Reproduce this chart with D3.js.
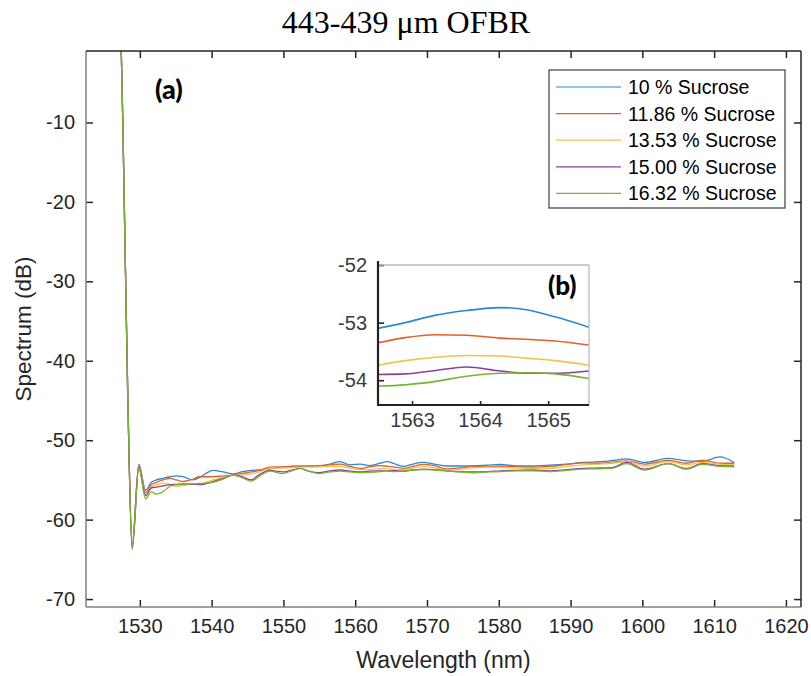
<!DOCTYPE html>
<html><head><meta charset="utf-8">
<script src="https://cdn.jsdelivr.net/npm/d3@7"></script>
<style>body{margin:0;background:#fff}</style>
</head><body><svg id="c" width="811" height="676"></svg>
<script>
// ---------- data ----------
const wavelengths = [1527.4,1527.63,1528.33,1528.93,1529.86,1530.8,
 1531.6,1532.3,1533.2,1534.2,1535.1,1536.0,1537.4,1538.3,1540.2,1541.6,1543.0,1544.2,1545.5,1546.7,1548.1,1549.9,
 1551.0,1552.3,1553.5,1555.0,1556.5,1557.9,1559.3,1560.7,1562.0,1563.5,1564.4,1565.6,1566.7,1568.0,1569.5,1571.0,
 1572.7,1574.5,1576.5,1578.5,1580.2,1582.5,1584.7,1587.1,1589.5,1591.7,1594.0,1595.8,1597.8,1600.3,1603.6,1606.1,
 1608.4,1610.8,1612.8];
const sucrose10 = [-0.5,-10,-45,-63.2,-53.0,-56.3,
 -55.3,-55.0,-54.8,-54.6,-54.5,-54.6,-55.0,-54.7,-53.8,-54.0,-54.25,-54.0,-53.8,-53.74,-53.6,-53.4,
 -53.3,-53.3,-53.3,-53.25,-53.0,-52.7,-53.1,-53.0,-53.2,-52.9,-52.7,-53.0,-53.3,-53.0,-52.8,-53.0,
 -53.25,-53.25,-53.25,-53.15,-53.05,-53.25,-53.25,-53.15,-53.0,-52.8,-52.7,-52.55,-52.35,-52.8,-52.3,-52.6,
 -52.65,-52.1,-52.8];
const sucrose1186 = [-0.5,-10,-45,-63.4,-53.1,-56.6,
 -55.6,-55.3,-55.0,-54.8,-55.0,-55.2,-54.9,-54.6,-54.6,-54.5,-54.4,-54.2,-54.0,-53.8,-53.4,-53.35,
 -53.3,-53.25,-53.25,-53.2,-53.1,-53.0,-53.3,-53.55,-53.35,-53.2,-53.28,-53.4,-53.55,-53.3,-53.05,-53.2,
 -53.6,-53.5,-53.3,-53.35,-53.25,-53.35,-53.4,-53.3,-53.05,-52.85,-52.9,-52.75,-52.6,-53.0,-52.55,-52.9,
 -52.5,-52.9,-52.9];
const sucrose1353 = [-0.5,-10,-45,-63.5,-53.2,-56.8,
 -55.9,-55.6,-55.4,-55.6,-55.8,-55.7,-55.5,-55.5,-55.0,-54.7,-54.4,-54.4,-54.25,-54.0,-53.55,-53.5,
 -53.45,-53.4,-53.4,-53.35,-53.3,-53.3,-53.5,-53.7,-53.7,-53.6,-53.57,-53.74,-53.7,-53.5,-53.3,-53.45,
 -53.75,-53.7,-53.45,-53.4,-53.45,-53.5,-53.55,-53.55,-53.3,-53.1,-53.0,-52.9,-52.7,-53.25,-52.7,-53.1,
 -52.8,-53.0,-53.1];
const sucrose1500 = [-0.5,-10,-45,-63.6,-53.3,-57.0,
 -56.0,-55.9,-55.75,-55.6,-55.55,-55.5,-55.55,-55.6,-55.2,-54.8,-54.4,-54.6,-55.0,-54.3,-53.8,-54.0,
 -53.8,-53.55,-53.9,-54.1,-53.85,-53.75,-53.9,-54.0,-53.9,-53.85,-53.85,-53.84,-53.9,-53.75,-53.65,-53.7,
 -53.85,-53.95,-54.0,-53.95,-53.85,-53.8,-53.75,-53.85,-53.7,-53.55,-53.5,-53.45,-52.8,-53.65,-52.95,-53.55,
 -52.95,-53.2,-53.25];
const sucrose1632 = [-0.5,-10,-45,-63.8,-53.5,-57.4,
 -56.5,-56.8,-56.5,-55.8,-55.6,-55.55,-55.5,-55.45,-55.3,-54.9,-54.4,-54.7,-55.15,-54.5,-53.9,-54.2,
 -53.9,-53.55,-53.9,-54.2,-54.0,-53.9,-54.0,-54.1,-54.05,-53.95,-53.87,-53.95,-53.85,-53.75,-53.7,-53.75,
 -53.85,-54.0,-54.1,-54.0,-53.95,-53.85,-53.85,-53.95,-53.8,-53.65,-53.6,-53.55,-52.95,-53.75,-52.95,-53.65,
 -53.05,-53.3,-53.35];
const seriesNames = ["10 % Sucrose","11.86 % Sucrose","13.53 % Sucrose","15.00 % Sucrose","16.32 % Sucrose"];
const seriesColors = ["#2b87d1","#e0612b","#f2c14e","#8e3f9c","#79b234"];
const xTicks = [1530,1540,1550,1560,1570,1580,1590,1600,1610,1620];
const yTicks = [-70,-60,-50,-40,-30,-20,-10];

// inset (b)
const insetWavelengths = [1562.5,1562.9,1563.35,1563.8,1564.3,1564.7,1565.1,1565.6];
const inset10   = [-53.10,-53.00,-52.87,-52.79,-52.74,-52.78,-52.90,-53.08];
const inset1186 = [-53.35,-53.26,-53.21,-53.22,-53.27,-53.29,-53.32,-53.39];
const inset1353 = [-53.74,-53.66,-53.60,-53.57,-53.58,-53.62,-53.66,-53.74];
const inset1500 = [-53.90,-53.89,-53.83,-53.77,-53.84,-53.88,-53.88,-53.84];
const inset1632 = [-54.10,-54.08,-54.02,-53.93,-53.88,-53.87,-53.89,-53.97];
const insetXTicks = [1563,1564,1565];
const insetYTicks = [-54,-53,-52];

// ---------- drawing ----------
const svg = d3.select("#c");
const L=86,R=801,T=51,B=607;
const x = d3.scaleLinear().domain([1522.5,1622.1]).range([L,R]);
const y = d3.scaleLinear().domain([-71,-1]).range([B,T]);
const mainSeries = [sucrose10,sucrose1186,sucrose1353,sucrose1500,sucrose1632];
const insetSeries = [inset10,inset1186,inset1353,inset1500,inset1632];
const sansFont = "'Liberation Sans', Arial, sans-serif";
const tickColor = "#262626";
const fmt = d => String(d);

svg.append("text").attr("x",406).attr("y",33).attr("text-anchor","middle")
  .attr("font-family","'Liberation Serif','Times New Roman',serif").attr("font-size",32)
  .attr("fill","#000").text("443-439 μm OFBR");

svg.append("defs").append("clipPath").attr("id","clipMain")
  .append("rect").attr("x",L).attr("y",T).attr("width",R-L).attr("height",B-T);

// lines
const line = d3.line().x((d,i)=>x(wavelengths[i])).y(d=>y(d)).curve(d3.curveMonotoneX);
const gLines = svg.append("g").attr("clip-path","url(#clipMain)");
mainSeries.forEach((s,k)=>{
  gLines.append("path").datum(s).attr("d",line).attr("fill","none")
    .attr("stroke",seriesColors[k]).attr("stroke-width",1.3);
});

// axes
const gx = svg.append("g").attr("transform",`translate(0,${B})`)
  .call(d3.axisBottom(x).tickValues(xTicks).tickSizeInner(-7).tickSizeOuter(0).tickPadding(18).tickFormat(fmt));
const gxt = svg.append("g").attr("transform",`translate(0,${T})`)
  .call(d3.axisTop(x).tickValues(xTicks).tickSizeInner(-7).tickSizeOuter(0).tickFormat(""));
const gy = svg.append("g").attr("transform",`translate(${L},0)`)
  .call(d3.axisLeft(y).tickValues(yTicks).tickSizeInner(-7).tickSizeOuter(0).tickPadding(11).tickFormat(fmt));
const gyr = svg.append("g").attr("transform",`translate(${R},0)`)
  .call(d3.axisRight(y).tickValues(yTicks).tickSizeInner(-7).tickSizeOuter(0).tickFormat(""));
[gx,gxt,gy,gyr].forEach(g=>{
  g.select(".domain").remove();
  g.selectAll(".tick line").attr("stroke",tickColor).attr("stroke-width",1.5);
  g.selectAll(".tick text").attr("font-family",sansFont).attr("font-size",20).attr("fill",tickColor);
});
gx.selectAll(".tick text").attr("dy","0.4em");
svg.append("line").attr("x1",L).attr("x2",R).attr("y1",B).attr("y2",B).attr("stroke","#808080").attr("stroke-width",1.5);
svg.append("line").attr("x1",L).attr("x2",L).attr("y1",T).attr("y2",B).attr("stroke","#808080").attr("stroke-width",1.5);
svg.append("line").attr("x1",L).attr("x2",R).attr("y1",T).attr("y2",T).attr("stroke","#262626").attr("stroke-width",1.5);
svg.append("line").attr("x1",R).attr("x2",R).attr("y1",T).attr("y2",B).attr("stroke","#262626").attr("stroke-width",1.5);

svg.append("text").attr("x",(L+R)/2).attr("y",668).attr("text-anchor","middle")
  .attr("font-family",sansFont).attr("font-size",23).attr("fill",tickColor).text("Wavelength (nm)");
svg.append("text").attr("transform",`translate(31,${(T+B)/2}) rotate(-90)`).attr("text-anchor","middle")
  .attr("font-family",sansFont).attr("font-size",22.5).attr("fill",tickColor).text("Spectrum (dB)");

svg.append("text").attr("x",155).attr("y",99).attr("font-family","Lato, 'Open Sans', sans-serif")
  .attr("font-weight",900).attr("font-size",27).attr("fill","#000").text("(a)");

// legend
const lg = svg.append("g");
lg.append("rect").attr("x",549).attr("y",70).attr("width",236).attr("height",138)
  .attr("fill","#fff").attr("stroke","#4d4d4d").attr("stroke-width",1.3);
seriesNames.forEach((n,k)=>{
  const yy = 87 + k*26.6;
  lg.append("line").attr("x1",556).attr("x2",621).attr("y1",yy).attr("y2",yy)
    .attr("stroke",seriesColors[k]).attr("stroke-width",1.2);
  lg.append("text").attr("x",628).attr("y",yy).attr("dy","0.36em").attr("font-family",sansFont)
    .attr("font-size",19.5).attr("fill","#000").text(n);
});

// inset
const iL=378,iR=589,iT=265,iB=405;
const xi = d3.scaleLinear().domain([1562.5,1565.6]).range([iL,iR]);
const yi = d3.scaleLinear().domain([-54.43,-52]).range([iB,iT]);
svg.append("rect").attr("x",iL).attr("y",iT).attr("width",iR-iL).attr("height",iB-iT).attr("fill","#fff");
svg.append("defs").append("clipPath").attr("id","clipInset")
  .append("rect").attr("x",iL).attr("y",iT).attr("width",iR-iL).attr("height",iB-iT);
const iline = d3.line().x((d,i)=>xi(insetWavelengths[i])).y(d=>yi(d)).curve(d3.curveMonotoneX);
const gi = svg.append("g").attr("clip-path","url(#clipInset)");
insetSeries.forEach((s,k)=>{
  gi.append("path").datum(s).attr("d",iline).attr("fill","none")
    .attr("stroke",seriesColors[k]).attr("stroke-width",1.6);
});
const gix = svg.append("g").attr("transform",`translate(0,${iB})`)
  .call(d3.axisBottom(xi).tickValues(insetXTicks).tickSizeInner(-4).tickSizeOuter(0).tickPadding(14).tickFormat(fmt));
const giy = svg.append("g").attr("transform",`translate(${iL},0)`)
  .call(d3.axisLeft(yi).tickValues(insetYTicks).tickSizeInner(-6).tickSizeOuter(0).tickPadding(11).tickFormat(fmt));
[gix,giy].forEach(g=>{
  g.select(".domain").remove();
  g.selectAll(".tick line").attr("stroke","#222").attr("stroke-width",1.6);
  g.selectAll(".tick text").attr("font-family",sansFont).attr("font-size",20).attr("fill","#3a3a3a");
});
gix.selectAll(".tick text").attr("dy","0.4em");
svg.append("line").attr("x1",iL).attr("x2",iR).attr("y1",iT).attr("y2",iT).attr("stroke","#bbb").attr("stroke-width",1.3);
svg.append("line").attr("x1",iR).attr("x2",iR).attr("y1",iT).attr("y2",iB).attr("stroke","#bbb").attr("stroke-width",1.3);
svg.append("line").attr("x1",iL-1).attr("x2",iR).attr("y1",iB).attr("y2",iB).attr("stroke","#222").attr("stroke-width",2.2);
svg.append("line").attr("x1",iL).attr("x2",iL).attr("y1",iT-4).attr("y2",iB).attr("stroke","#222").attr("stroke-width",2.2);
svg.append("text").attr("x",548).attr("y",295).attr("font-family","Lato, 'Open Sans', sans-serif")
  .attr("font-weight",900).attr("font-size",26).attr("fill","#000").text("(b)");
</script></body></html>
